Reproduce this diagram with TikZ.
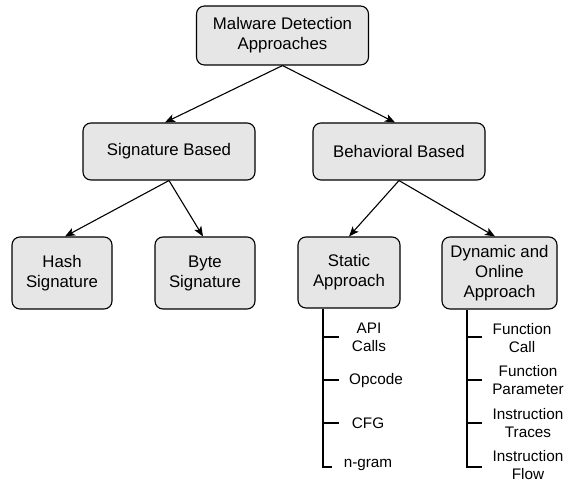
\documentclass[tikz,border=0pt]{standalone}
\usepackage{fontspec}
\setmainfont{Liberation Sans}
\usetikzlibrary{arrows.meta}
\definecolor{boxgray}{HTML}{E6E6E6}
\begin{document}
\begin{tikzpicture}[x=1pt,y=-1pt,
  box/.style={draw=black, line width=1.1pt, rounded corners=8pt, fill=boxgray, align=center,
    font=\fontsize{16.8}{20}\selectfont, inner sep=0pt},
  item/.style={align=center, font=\fontsize{15.3}{17.6}\selectfont, inner sep=0pt},
  arr/.style={-{Stealth[length=10pt,width=8pt,inset=2.5pt]}, line width=1.1pt},
  treeline/.style={line width=1.1pt}]
\useasboundingbox (0,0) rectangle (568,481);
\fill[white] (0,0) rectangle (568,481);
% boxes
\node[box, minimum width=172pt, minimum height=59pt] (top) at (282.5,35.5) {Malware Detection\\Approaches};
\node[box, minimum width=172pt, minimum height=57pt] (sig) at (169,151.5) {Signature Based};
\node[box, minimum width=172pt, minimum height=57pt] (beh) at (399,151.5) {Behavioral Based};
\node[box, minimum width=100pt, minimum height=72pt] (hash) at (62,273) {Hash\\Signature};
\node[box, minimum width=100pt, minimum height=72pt] (byte) at (205,273) {Byte\\Signature};
\node[box, minimum width=102pt, minimum height=71pt] (static) at (349,272.5) {Static\\Approach};
\node[box, minimum width=115pt, minimum height=72pt] (dyn) at (499.5,273) {Dynamic and\\Online\\Approach};
% arrows
\draw[arr] (top.south) -- (sig.north -| 165,0);
\draw[arr] (top.south) -- (beh.north -| 395,0);
\draw[arr] (sig.south) -- (hash.north -| 65,0);
\draw[arr] (sig.south) -- (byte.north -| 203,0);
\draw[arr] (beh.south) -- (static.north);
\draw[arr] (beh.south) -- (dyn.north -| 495,0);
% static tree
\coordinate (s0) at (static.south -| 323,0);
\coordinate (s1) at (339,337);
\coordinate (s2) at (339,380);
\coordinate (s3) at (339,423);
\coordinate (s4) at (332,467);
\draw[treeline] (s0) |- (s4);
\draw[treeline] (s1) -- (s1 -| s0);
\draw[treeline] (s2) -- (s2 -| s0);
\draw[treeline] (s3) -- (s3 -| s0);
\node[item] (api) at (369,337.5) {API\\Calls};
\node[item] (opc) at (376,381) {Opcode};
\node[item] (cfg) at (368,423) {CFG};
\node[item] (ngr) at (368,464.5) {n-gram};
% dynamic tree
\coordinate (d0) at (dyn.south -| 467,0);
\coordinate (d1) at (482,337);
\coordinate (d2) at (482,380);
\coordinate (d3) at (482,423);
\coordinate (d4) at (482,467);
\draw[treeline] (d0) |- (d4);
\draw[treeline] (d1) -- (d1 -| d0);
\draw[treeline] (d2) -- (d2 -| d0);
\draw[treeline] (d3) -- (d3 -| d0);
\node[item] (fc) at (522,338) {Function\\Call};
\node[item] (fp) at (528,380) {Function\\Parameter};
\node[item] (it) at (528,423) {Instruction\\Traces};
\node[item] (ifl) at (528,465) {Instruction\\Flow};
\end{tikzpicture}
\end{document}
